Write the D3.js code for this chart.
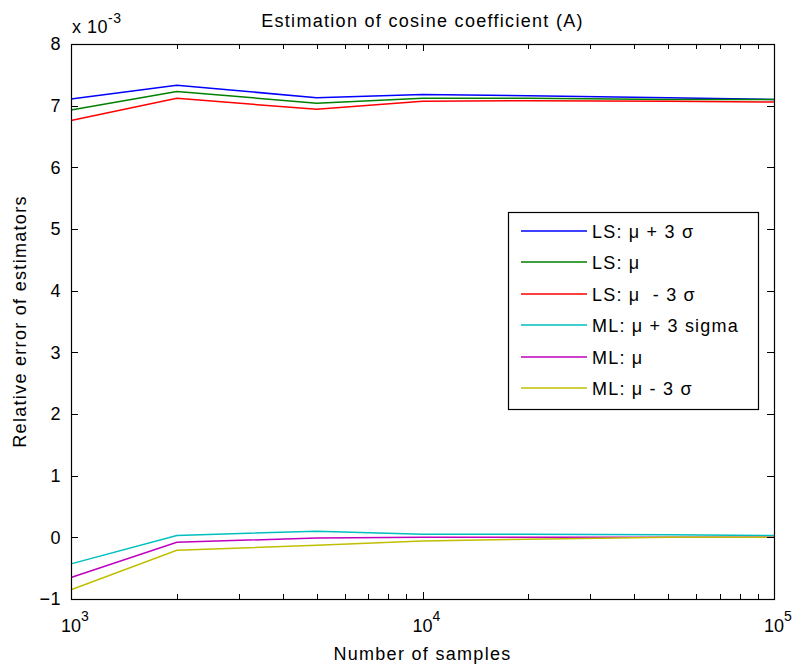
<!DOCTYPE html>
<html>
<head>
<meta charset="utf-8">
<script src="https://cdn.jsdelivr.net/npm/d3@7"></script>
<style>
  body { margin: 0; background: #fff; }
  svg text { font-family: "Liberation Sans", Arial, sans-serif; fill: #000; }
</style>
</head>
<body>
<div id="chart"></div>
<script>
// ---------- data (values in units of 1e-3) ----------
const samples = [1000, 2000, 5000, 10000, 20000, 50000, 100000];

const lsPlus  = [7.11, 7.33, 7.13, 7.18, 7.16, 7.13, 7.10];
const lsMean  = [6.93, 7.23, 7.04, 7.12, 7.12, 7.10, 7.10];
const lsMinus = [6.76, 7.12, 6.94, 7.07, 7.08, 7.07, 7.06];
const mlPlus  = [-0.43, 0.03, 0.10, 0.05, 0.05, 0.04, 0.03];
const mlMean  = [-0.65, -0.08, -0.01, 0.0, 0.0, 0.0, 0.0];
const mlMinus = [-0.85, -0.21, -0.13, -0.06, -0.03, 0.0, 0.0];

const seriesNames = [
  "LS: \u03bc + 3 \u03c3",
  "LS: \u03bc",
  "LS: \u03bc  - 3 \u03c3",
  "ML: \u03bc + 3 sigma",
  "ML: \u03bc",
  "ML: \u03bc - 3 \u03c3"
];
const seriesValues = [lsPlus, lsMean, lsMinus, mlPlus, mlMean, mlMinus];
const seriesColors = ["#0000ff", "#008000", "#ff0000", "#00bfbf", "#bf00bf", "#bfbf00"];

const yTicks = [-1, 0, 1, 2, 3, 4, 5, 6, 7, 8];
const xMajor = [1e3, 1e4, 1e5];

// ---------- layout ----------
const W = 792, H = 669;
const mLeft = 71, mRight = 774, mTop = 44, mBottom = 599;
const fontSize = 18;

const svg = d3.select("#chart").append("svg")
  .attr("width", W)
  .attr("height", H);

const x = d3.scaleLog().domain([1e3, 1e5]).range([mLeft, mRight]);
const y = d3.scaleLinear().domain([-1, 8]).range([mBottom, mTop]);

// ---------- lines ----------
const line = d3.line()
  .x((d, i) => x(samples[i]))
  .y(d => y(d));

svg.append("g").selectAll("path")
  .data(seriesValues)
  .enter()
  .append("path")
  .attr("d", line)
  .attr("fill", "none")
  .attr("stroke", (d, i) => seriesColors[i])
  .attr("stroke-width", 1.5);

// ---------- axes (MATLAB style, ticks inward on all sides) ----------
const minor = x.ticks().filter(v => !xMajor.includes(v));

function styleAxis(g) {
  g.select(".domain").remove();
  g.selectAll("line").attr("stroke", "#000").attr("shape-rendering", "crispEdges");
  g.selectAll("text")
    .style("font-size", fontSize + "px")
    .style("font-family", "'Liberation Sans', Arial, sans-serif")
    .style("letter-spacing", "0.5px");
}

svg.append("g")
  .attr("transform", `translate(0,${mBottom})`)
  .call(d3.axisBottom(x).tickValues(xMajor).tickSize(-7).tickFormat(""))
  .call(styleAxis);
svg.append("g")
  .attr("transform", `translate(0,${mBottom})`)
  .call(d3.axisBottom(x).tickValues(minor).tickSize(-5).tickFormat(""))
  .call(styleAxis);
svg.append("g")
  .attr("transform", `translate(0,${mTop})`)
  .call(d3.axisTop(x).tickValues(xMajor).tickSize(-7).tickFormat(""))
  .call(styleAxis);
svg.append("g")
  .attr("transform", `translate(0,${mTop})`)
  .call(d3.axisTop(x).tickValues(minor).tickSize(-5).tickFormat(""))
  .call(styleAxis);

svg.append("g")
  .attr("transform", `translate(${mLeft},0)`)
  .call(d3.axisLeft(y).tickValues(yTicks).tickSize(-7).tickPadding(10).tickFormat(d3.format("d")))
  .call(styleAxis);
svg.append("g")
  .attr("transform", `translate(${mRight},0)`)
  .call(d3.axisRight(y).tickValues(yTicks).tickSize(-7).tickFormat(""))
  .call(styleAxis);

// box
svg.append("rect")
  .attr("x", mLeft + 0.5).attr("y", mTop + 0.5)
  .attr("width", mRight - mLeft).attr("height", mBottom - mTop)
  .attr("fill", "none").attr("stroke", "#000")
  .attr("stroke-width", 1.2);

// x tick labels 10^n
const xl = svg.append("g").selectAll("text")
  .data(xMajor)
  .enter()
  .append("text")
  .attr("x", d => x(d) + 4)
  .attr("y", 632)
  .attr("text-anchor", "middle")
  .style("font-size", fontSize + "px");
xl.append("tspan").text("10");
xl.append("tspan").attr("dy", -11).style("font-size", "14px").text(d => Math.round(Math.log10(d)));

// exponent marker
const ex = svg.append("text")
  .attr("x", 72).attr("y", 33)
  .style("font-size", fontSize + "px")
  .style("letter-spacing", "0.5px");
ex.append("tspan").text("x 10");
ex.append("tspan").attr("dy", -10).style("font-size", "14px").text("-3");

// title and axis labels
svg.append("text")
  .attr("x", (mLeft + mRight) / 2)
  .attr("y", 27)
  .attr("text-anchor", "middle")
  .style("font-size", fontSize + "px")
  .style("letter-spacing", "1.3px")
  .text("Estimation of cosine coefficient (A)");

svg.append("text")
  .attr("x", (mLeft + mRight) / 2)
  .attr("y", 660)
  .attr("text-anchor", "middle")
  .style("font-size", fontSize + "px")
  .style("letter-spacing", "1.3px")
  .text("Number of samples");

svg.append("text")
  .attr("transform", `translate(26,${(mTop + mBottom) / 2}) rotate(-90)`)
  .attr("text-anchor", "middle")
  .style("font-size", fontSize + "px")
  .style("letter-spacing", "1.3px")
  .text("Relative error of estimators");

// ---------- legend ----------
const legend = svg.append("g");
legend.append("rect")
  .attr("x", 508.5).attr("y", 212.5)
  .attr("width", 250).attr("height", 197)
  .attr("fill", "#fff").attr("stroke", "#000")
  .attr("stroke-width", 1.2);

const rows = legend.selectAll("g.row")
  .data(seriesNames)
  .enter()
  .append("g")
  .attr("class", "row")
  .attr("transform", (d, i) => `translate(0,${Math.round(231 + i * 31.4)})`);

rows.append("line")
  .attr("x1", 521).attr("x2", 587)
  .attr("y1", 0).attr("y2", 0)
  .attr("stroke", (d, i) => seriesColors[i])
  .attr("stroke-width", 1.5);

rows.append("text")
  .attr("x", 592)
  .attr("y", 6.5)
  .attr("xml:space", "preserve")
  .style("white-space", "pre")
  .style("font-size", fontSize + "px")
  .style("letter-spacing", "1.2px")
  .text(d => d);
</script>
</body>
</html>
